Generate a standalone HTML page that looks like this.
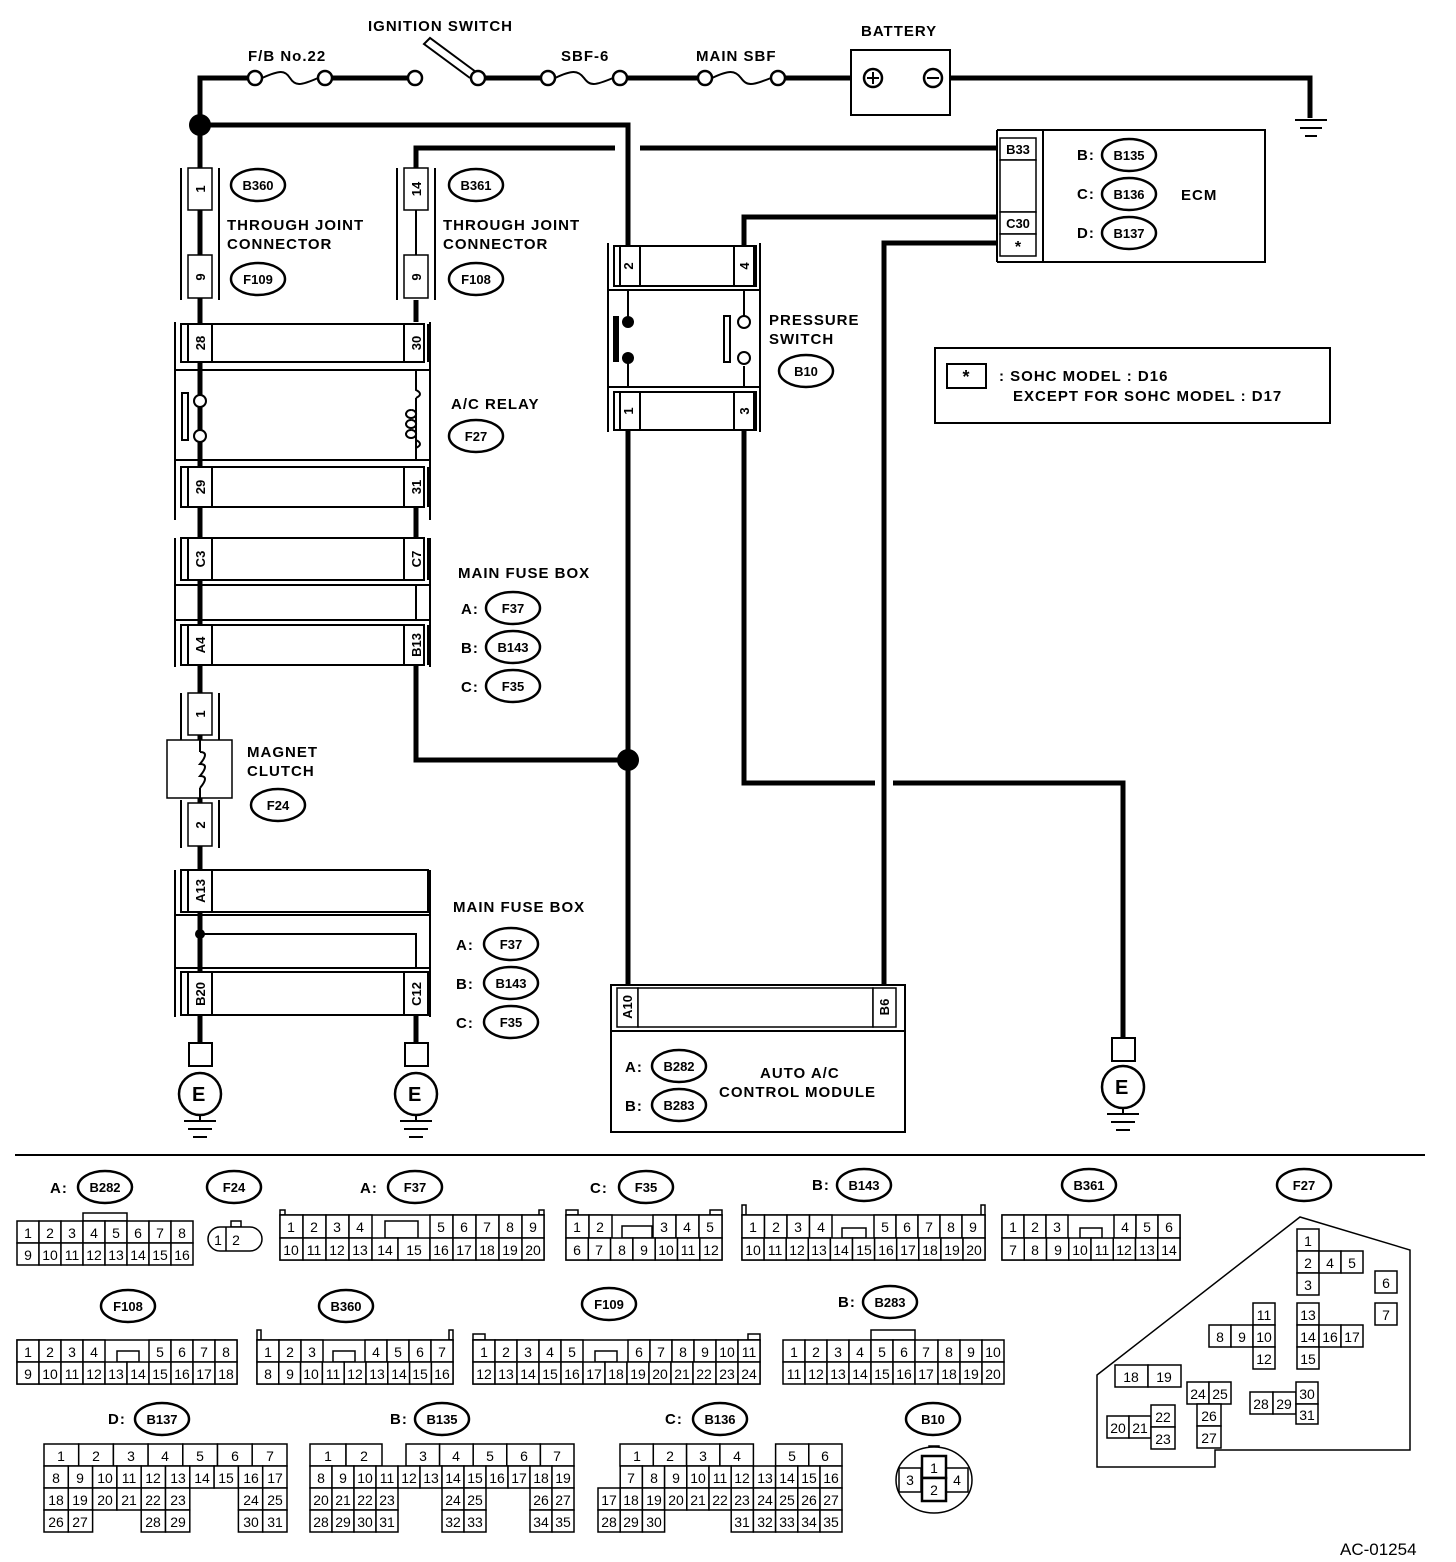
<!DOCTYPE html>
<html><head><meta charset="utf-8"><style>
body{margin:0;background:#fff}
svg{display:block}
.t{font-family:"Liberation Sans",Arial,sans-serif;font-weight:bold;font-size:15px;letter-spacing:1px;fill:#000}
.n{font-family:"Liberation Sans Narrow","Liberation Sans",sans-serif;font-size:14px;fill:#000;text-anchor:middle}
.g rect,.g ellipse{fill:#fff;stroke:#000;stroke-width:1.5}
.w{stroke:#000;stroke-width:5;fill:none}
.l{stroke:#000;stroke-width:2;fill:none}
.o{fill:#fff;stroke:#000;stroke-width:2.5}
.r{font-family:"Liberation Sans",sans-serif;font-weight:bold;font-size:13px;text-anchor:middle}
</style></head><body>
<svg width="1456" height="1562" viewBox="0 0 1456 1562" xmlns="http://www.w3.org/2000/svg">
<path class="w" d="M200 1040V78H248M332 78H408M485 78H541M627 78H698M785 78H851M950 78H1310V118"/>
<path class="l" d="M1295 120H1327M1300 128H1322M1305 136H1317"/>
<path class="w" d="M200 125H628V245M416 168V148H615M640 148H997"/>
<circle cx="200" cy="125" r="11"/>
<circle class="o" cx="255" cy="78" r="7"/><circle class="o" cx="325" cy="78" r="7"/>
<path class="l" d="M262 78C280 70 285 70 290 78S300 86 318 78"/>
<circle class="o" cx="415" cy="78" r="7"/><circle class="o" cx="478" cy="78" r="7"/>
<path class="l" d="M476 72L430 38L424 44L470 78" />
<circle class="o" cx="548" cy="78" r="7"/><circle class="o" cx="620" cy="78" r="7"/>
<path class="l" d="M555 78C572 70 578 70 584 78S594 86 613 78"/>
<circle class="o" cx="705" cy="78" r="7"/><circle class="o" cx="778" cy="78" r="7"/>
<path class="l" d="M712 78C729 70 735 70 741 78S751 86 771 78"/>
<rect x="851" y="50" width="99" height="65" class="o" style="stroke-width:2"/>
<circle class="o" cx="873" cy="78" r="9"/><path class="l" d="M867 78H879M873 72V84"/>
<circle class="o" cx="933" cy="78" r="9"/><path class="l" d="M927 78H939"/>
<text class="t" x="368" y="31">IGNITION SWITCH</text>
<text class="t" x="248" y="61">F/B No.22</text>
<text class="t" x="561" y="61">SBF-6</text>
<text class="t" x="696" y="61">MAIN SBF</text>
<text class="t" x="861" y="36">BATTERY</text>

<g class="l">
<path d="M181 168V300M219 168V300M397 168V300M435 168V300M200 210V255M416 210V255"/>
</g>
<path class="w" d="M200 300V322M416 300V322"/>
<g class="g"><rect x="188" y="168" width="24" height="42"/><rect x="188" y="255" width="24" height="43"/>
<rect x="404" y="168" width="24" height="42"/><rect x="404" y="255" width="24" height="43"/></g>
<text class="r" transform="translate(205,189) rotate(-90)">1</text>
<text class="r" transform="translate(205,277) rotate(-90)">9</text>
<text class="r" transform="translate(421,189) rotate(-90)">14</text>
<text class="r" transform="translate(421,277) rotate(-90)">9</text>
<ellipse class="o" cx="258" cy="185" rx="27" ry="16"/><text class="r" x="258" y="190">B360</text>
<ellipse class="o" cx="258" cy="279" rx="27" ry="16"/><text class="r" x="258" y="284">F109</text>
<ellipse class="o" cx="476" cy="185" rx="27" ry="16"/><text class="r" x="476" y="190">B361</text>
<ellipse class="o" cx="476" cy="279" rx="27" ry="16"/><text class="r" x="476" y="284">F108</text>
<text class="t" x="227" y="230">THROUGH JOINT</text><text class="t" x="227" y="249">CONNECTOR</text>
<text class="t" x="443" y="230">THROUGH JOINT</text><text class="t" x="443" y="249">CONNECTOR</text>

<g class="l">
<path d="M175 322V520M430 322V520M175 370H430M175 460H430"/>
<rect x="181" y="324" width="243" height="38" fill="#fff"/>
<rect x="181" y="467" width="243" height="40" fill="#fff"/>
<path d="M188 324V362M212 324V362M404 324V362M428 324V362M188 467V507M212 467V507M404 467V507M428 467V507"/>
<path d="M200 370V395M200 408V437M200 448V460M182 393V440H188V393Z"/>
<path d="M416 370V390q8 4 0 8M416 448q8 -4 0 -8V460"/>
</g>
<circle class="o" cx="200" cy="401" r="6" style="stroke-width:2"/><circle class="o" cx="200" cy="436" r="6" style="stroke-width:2"/>
<path class="l" d="M416 398v42M411 410a5 4 0 1 0 0.1 0M411 420a5 4 0 1 0 0.1 0M411 430a5 4 0 1 0 0.1 0"/>
<text class="r" transform="translate(205,343) rotate(-90)">28</text>
<text class="r" transform="translate(421,343) rotate(-90)">30</text>
<text class="r" transform="translate(205,487) rotate(-90)">29</text>
<text class="r" transform="translate(421,487) rotate(-90)">31</text>
<text class="t" x="451" y="409">A/C RELAY</text>
<ellipse class="o" cx="476" cy="436" rx="27" ry="16"/><text class="r" x="476" y="441">F27</text>
<path class="w" d="M200 507V538M416 507V538"/>
<g class="l">
<path d="M175 538V667M430 538V667M175 585H430M175 620H430M200 585V620M416 585V620"/>
<rect x="181" y="538" width="243" height="42" fill="#fff"/>
<rect x="181" y="625" width="243" height="40" fill="#fff"/>
<path d="M188 538V580M212 538V580M404 538V580M428 538V580M188 625V665M212 625V665M404 625V665M428 625V665"/>
</g>
<text class="r" transform="translate(205,559) rotate(-90)">C3</text>
<text class="r" transform="translate(421,559) rotate(-90)">C7</text>
<text class="r" transform="translate(205,645) rotate(-90)">A4</text>
<text class="r" transform="translate(421,645) rotate(-90)">B13</text>
<text class="t" x="458" y="578">MAIN FUSE BOX</text>
<text class="t" x="461" y="614">A:</text><text class="t" x="461" y="653">B:</text><text class="t" x="461" y="692">C:</text>
<ellipse class="o" cx="513" cy="608" rx="27" ry="16"/><text class="r" x="513" y="613">F37</text>
<ellipse class="o" cx="513" cy="647" rx="27" ry="16"/><text class="r" x="513" y="652">B143</text>
<ellipse class="o" cx="513" cy="686" rx="27" ry="16"/><text class="r" x="513" y="691">F35</text>

<path class="w" d="M416 665V760H628"/>
<g class="l"><path d="M181 693V740M219 693V740M181 800V848M219 800V848"/></g>
<g class="g"><rect x="188" y="693" width="24" height="42"/><rect x="188" y="803" width="24" height="43"/><rect x="167" y="740" width="65" height="58"/></g>
<path class="l" d="M200 740v12M200 788v10M200 752q10 0 0 12q10 0 0 12q10 0 0 12"/>
<text class="r" transform="translate(205,714) rotate(-90)">1</text>
<text class="r" transform="translate(205,825) rotate(-90)">2</text>
<text class="t" x="247" y="757">MAGNET</text><text class="t" x="247" y="776">CLUTCH</text>
<ellipse class="o" cx="278" cy="805" rx="27" ry="16"/><text class="r" x="278" y="810">F24</text>

<g class="l">
<path d="M175 870V1017M430 870V1017M175 915H430M175 968H430"/>
<rect x="181" y="870" width="247" height="42" fill="#fff"/>
<rect x="181" y="972" width="247" height="43" fill="#fff"/>
<path d="M188 870V912M212 870V912M188 972V1015M212 972V1015M404 972V1015M428 972V1015"/>
<path d="M200 915V968M200 934H416V968"/>
</g>
<circle cx="200" cy="934" r="5"/>
<text class="r" transform="translate(205,891) rotate(-90)">A13</text>
<text class="r" transform="translate(205,994) rotate(-90)">B20</text>
<text class="r" transform="translate(421,994) rotate(-90)">C12</text>
<text class="t" x="453" y="912">MAIN FUSE BOX</text>
<text class="t" x="456" y="950">A:</text><text class="t" x="456" y="989">B:</text><text class="t" x="456" y="1028">C:</text>
<ellipse class="o" cx="511" cy="944" rx="27" ry="16"/><text class="r" x="511" y="949">F37</text>
<ellipse class="o" cx="511" cy="983" rx="27" ry="16"/><text class="r" x="511" y="988">B143</text>
<ellipse class="o" cx="511" cy="1022" rx="27" ry="16"/><text class="r" x="511" y="1027">F35</text>
<path class="w" d="M200 1015V1043M416 1015V1043"/>
<g>
<rect class="o" x="189" y="1043" width="23" height="23" style="stroke-width:2"/><circle class="o" cx="200" cy="1094" r="21"/><text class="t" x="192" y="1101" style="font-size:20px">E</text>
<path class="l" d="M200 1115V1120M184 1121H216M188 1129H212M193 1137H207"/>
<rect class="o" x="405" y="1043" width="23" height="23" style="stroke-width:2"/><circle class="o" cx="416" cy="1094" r="21"/><text class="t" x="408" y="1101" style="font-size:20px">E</text>
<path class="l" d="M416 1115V1120M400 1121H432M404 1129H428M409 1137H423"/>
<rect class="o" x="1112" y="1038" width="23" height="23" style="stroke-width:2"/><circle class="o" cx="1123" cy="1087" r="21"/><text class="t" x="1115" y="1094" style="font-size:20px">E</text>
<path class="l" d="M1123 1108V1113M1107 1114H1139M1111 1122H1135M1116 1130H1130"/>
</g>

<path class="w" d="M628 430V985M744 430V783H875M893 783H1123V1038M744 245V217H997M884 985V243H997"/>
<circle cx="628" cy="760" r="11"/>
<g class="l">
<path d="M608 243V432M760 243V432M608 290H760M608 387H760"/>
<rect x="614" y="246" width="142" height="40" fill="#fff"/>
<rect x="614" y="392" width="142" height="38" fill="#fff"/>
<path d="M620 246V286M640 246V286M734 246V286M754 246V286M620 392V430M640 392V430M734 392V430M754 392V430"/>
<path d="M628 290V322M628 358V387M744 290V316M744 366V387M724 316V362H730V316Z"/>
</g>
<path d="M613 316h6v46h-6z"/><circle cx="628" cy="322" r="6"/><circle cx="628" cy="358" r="6"/>
<circle class="o" cx="744" cy="322" r="6" style="stroke-width:2"/><circle class="o" cx="744" cy="358" r="6" style="stroke-width:2"/>
<text class="r" transform="translate(633,266) rotate(-90)">2</text>
<text class="r" transform="translate(749,266) rotate(-90)">4</text>
<text class="r" transform="translate(633,411) rotate(-90)">1</text>
<text class="r" transform="translate(749,411) rotate(-90)">3</text>
<text class="t" x="769" y="325">PRESSURE</text><text class="t" x="769" y="344">SWITCH</text>
<ellipse class="o" cx="806" cy="371" rx="27" ry="16"/><text class="r" x="806" y="376">B10</text>

<rect class="o" x="1043" y="130" width="222" height="132" style="stroke-width:2"/>
<path class="l" d="M997 130H1043M997 262H1043M997 130V262"/>
<g class="g"><rect x="1000" y="138" width="36" height="22"/><rect x="1000" y="160" width="36" height="52"/><rect x="1000" y="212" width="36" height="22"/><rect x="1000" y="234" width="36" height="22"/></g>
<text class="r" x="1018" y="154">B33</text><text class="r" x="1018" y="228">C30</text><text class="r" x="1018" y="252" style="font-size:16px">*</text>
<text class="t" x="1077" y="160">B:</text><text class="t" x="1077" y="199">C:</text><text class="t" x="1077" y="238">D:</text>
<ellipse class="o" cx="1129" cy="155" rx="27" ry="16"/><text class="r" x="1129" y="160">B135</text>
<ellipse class="o" cx="1129" cy="194" rx="27" ry="16"/><text class="r" x="1129" y="199">B136</text>
<ellipse class="o" cx="1129" cy="233" rx="27" ry="16"/><text class="r" x="1129" y="238">B137</text>
<text class="t" x="1181" y="200">ECM</text>
<rect class="o" x="935" y="348" width="395" height="75" style="stroke-width:2"/>
<rect class="o" x="947" y="364" width="39" height="24" style="stroke-width:2"/>
<text class="r" x="966" y="383" style="font-size:18px">*</text>
<text class="t" x="999" y="381">: SOHC MODEL : D16</text>
<text class="t" x="1013" y="401">EXCEPT FOR SOHC MODEL : D17</text>

<rect class="o" x="611" y="985" width="294" height="147" style="stroke-width:2"/>
<path class="l" d="M611 1031H905"/>
<g class="g"><rect x="617" y="988" width="21" height="39"/><rect x="638" y="988" width="235" height="39"/><rect x="873" y="988" width="23" height="39"/></g>
<text class="r" transform="translate(632,1007) rotate(-90)">A10</text>
<text class="r" transform="translate(889,1007) rotate(-90)">B6</text>
<text class="t" x="625" y="1072">A:</text><text class="t" x="625" y="1111">B:</text>
<ellipse class="o" cx="679" cy="1066" rx="27" ry="16"/><text class="r" x="679" y="1071">B282</text>
<ellipse class="o" cx="679" cy="1105" rx="27" ry="16"/><text class="r" x="679" y="1110">B283</text>
<text class="t" x="760" y="1078">AUTO A/C</text><text class="t" x="719" y="1097">CONTROL MODULE</text>

<path d="M15 1155H1425" stroke="#000" stroke-width="2"/>

<g>
<text class="t" x="50" y="1193">A:</text><ellipse class="o" cx="105" cy="1187" rx="27" ry="16"/><text class="r" x="105" y="1192">B282</text>
<ellipse class="o" cx="234" cy="1187" rx="27" ry="16"/><text class="r" x="234" y="1192">F24</text>
<text class="t" x="360" y="1193">A:</text><ellipse class="o" cx="415" cy="1187" rx="27" ry="16"/><text class="r" x="415" y="1192">F37</text>
<text class="t" x="590" y="1193">C:</text><ellipse class="o" cx="646" cy="1187" rx="27" ry="16"/><text class="r" x="646" y="1192">F35</text>
<text class="t" x="812" y="1190">B:</text><ellipse class="o" cx="864" cy="1185" rx="27" ry="16"/><text class="r" x="864" y="1190">B143</text>
<ellipse class="o" cx="1089" cy="1185" rx="27" ry="16"/><text class="r" x="1089" y="1190">B361</text>
<ellipse class="o" cx="1304" cy="1185" rx="27" ry="16"/><text class="r" x="1304" y="1190">F27</text>
<ellipse class="o" cx="128" cy="1306" rx="27" ry="16"/><text class="r" x="128" y="1311">F108</text>
<ellipse class="o" cx="346" cy="1306" rx="27" ry="16"/><text class="r" x="346" y="1311">B360</text>
<ellipse class="o" cx="609" cy="1304" rx="27" ry="16"/><text class="r" x="609" y="1309">F109</text>
<text class="t" x="838" y="1307">B:</text><ellipse class="o" cx="890" cy="1302" rx="27" ry="16"/><text class="r" x="890" y="1307">B283</text>
<text class="t" x="108" y="1424">D:</text><ellipse class="o" cx="162" cy="1419" rx="27" ry="16"/><text class="r" x="162" y="1424">B137</text>
<text class="t" x="390" y="1424">B:</text><ellipse class="o" cx="442" cy="1419" rx="27" ry="16"/><text class="r" x="442" y="1424">B135</text>
<text class="t" x="665" y="1424">C:</text><ellipse class="o" cx="720" cy="1419" rx="27" ry="16"/><text class="r" x="720" y="1424">B136</text>
<ellipse class="o" cx="933" cy="1419" rx="27" ry="16"/><text class="r" x="933" y="1424">B10</text>
</g>

<g class="g">
<rect x="83" y="1213" width="44" height="8"/>
<rect x="17" y="1221" width="22" height="22"/><rect x="39" y="1221" width="22" height="22"/><rect x="61" y="1221" width="22" height="22"/><rect x="83" y="1221" width="22" height="22"/><rect x="105" y="1221" width="22" height="22"/><rect x="127" y="1221" width="22" height="22"/><rect x="149" y="1221" width="22" height="22"/><rect x="171" y="1221" width="22" height="22"/>
<rect x="17" y="1243" width="22" height="22"/><rect x="39" y="1243" width="22" height="22"/><rect x="61" y="1243" width="22" height="22"/><rect x="83" y="1243" width="22" height="22"/><rect x="105" y="1243" width="22" height="22"/><rect x="127" y="1243" width="22" height="22"/><rect x="149" y="1243" width="22" height="22"/><rect x="171" y="1243" width="22" height="22"/>
<rect x="231" y="1221" width="10" height="6"/>
<rect x="208" y="1227" width="54" height="24" rx="12"/>
<rect x="280" y="1210" width="5" height="5"/><rect x="539" y="1210" width="5" height="5"/>
<rect x="280" y="1215" width="264" height="45"/>
<rect x="280" y="1215" width="23" height="23"/><rect x="303" y="1215" width="23" height="23"/><rect x="326" y="1215" width="23" height="23"/><rect x="349" y="1215" width="23" height="23"/>
<rect x="385" y="1221" width="33" height="17"/>
<rect x="430" y="1215" width="23" height="23"/><rect x="453" y="1215" width="23" height="23"/><rect x="476" y="1215" width="23" height="23"/><rect x="499" y="1215" width="23" height="23"/><rect x="522" y="1215" width="22" height="23"/>
<rect x="280" y="1238" width="23" height="22"/><rect x="303" y="1238" width="23" height="22"/><rect x="326" y="1238" width="23" height="22"/><rect x="349" y="1238" width="23" height="22"/><rect x="372" y="1238" width="26" height="22"/><rect x="398" y="1238" width="32" height="22"/>
<rect x="430" y="1238" width="23" height="22"/><rect x="453" y="1238" width="23" height="22"/><rect x="476" y="1238" width="23" height="22"/><rect x="499" y="1238" width="23" height="22"/><rect x="522" y="1238" width="22" height="22"/>
<rect x="566" y="1210" width="12" height="5"/><rect x="710" y="1210" width="12" height="5"/>
<rect x="566" y="1215" width="156" height="45"/>
<rect x="566" y="1215" width="23" height="23"/><rect x="589" y="1215" width="23" height="23"/>
<rect x="622" y="1226" width="30" height="12"/>
<rect x="653" y="1215" width="23" height="23"/><rect x="676" y="1215" width="23" height="23"/><rect x="699" y="1215" width="23" height="23"/>
<rect x="566" y="1238" width="22.3" height="22"/><rect x="588.3" y="1238" width="22.3" height="22"/><rect x="610.6" y="1238" width="22.3" height="22"/><rect x="632.9" y="1238" width="22.3" height="22"/><rect x="655.2" y="1238" width="22.3" height="22"/><rect x="677.5" y="1238" width="22.3" height="22"/><rect x="699.8" y="1238" width="22.2" height="22"/>
<rect x="742" y="1205" width="4" height="10"/><rect x="981" y="1205" width="4" height="10"/>
<rect x="742" y="1215" width="243" height="45"/>
<rect x="742" y="1215" width="22.5" height="23"/><rect x="764.5" y="1215" width="22.5" height="23"/><rect x="787" y="1215" width="22.5" height="23"/><rect x="809.5" y="1215" width="22.5" height="23"/>
<rect x="842" y="1228" width="24" height="10"/>
<rect x="874" y="1215" width="22" height="23"/><rect x="896" y="1215" width="22" height="23"/><rect x="918" y="1215" width="22" height="23"/><rect x="940" y="1215" width="22" height="23"/><rect x="962" y="1215" width="23" height="23"/>
<rect x="742" y="1238" width="22.1" height="22"/><rect x="764.1" y="1238" width="22.1" height="22"/><rect x="786.2" y="1238" width="22.1" height="22"/><rect x="808.3" y="1238" width="22.1" height="22"/><rect x="830.4" y="1238" width="22.1" height="22"/><rect x="852.5" y="1238" width="22.1" height="22"/><rect x="874.6" y="1238" width="22.1" height="22"/><rect x="896.7" y="1238" width="22.1" height="22"/><rect x="918.8" y="1238" width="22.1" height="22"/><rect x="940.9" y="1238" width="22.1" height="22"/><rect x="963" y="1238" width="22" height="22"/>
<rect x="1002" y="1215" width="178" height="45"/>
<rect x="1002" y="1215" width="22" height="23"/><rect x="1024" y="1215" width="22" height="23"/><rect x="1046" y="1215" width="22" height="23"/>
<rect x="1080" y="1228" width="22" height="10"/>
<rect x="1114" y="1215" width="22" height="23"/><rect x="1136" y="1215" width="22" height="23"/><rect x="1158" y="1215" width="22" height="23"/>
<rect x="1002" y="1238" width="22.25" height="22"/><rect x="1024.25" y="1238" width="22.25" height="22"/><rect x="1046.5" y="1238" width="22.25" height="22"/><rect x="1068.75" y="1238" width="22.25" height="22"/><rect x="1091" y="1238" width="22.25" height="22"/><rect x="1113.25" y="1238" width="22.25" height="22"/><rect x="1135.5" y="1238" width="22.25" height="22"/><rect x="1157.75" y="1238" width="22.25" height="22"/>
<rect x="17" y="1340" width="220" height="44"/>
<rect x="17" y="1340" width="22" height="22"/><rect x="39" y="1340" width="22" height="22"/><rect x="61" y="1340" width="22" height="22"/><rect x="83" y="1340" width="22" height="22"/>
<rect x="117" y="1351" width="22" height="11"/>
<rect x="149" y="1340" width="22" height="22"/><rect x="171" y="1340" width="22" height="22"/><rect x="193" y="1340" width="22" height="22"/><rect x="215" y="1340" width="22" height="22"/>
<rect x="17" y="1362" width="22" height="22"/><rect x="39" y="1362" width="22" height="22"/><rect x="61" y="1362" width="22" height="22"/><rect x="83" y="1362" width="22" height="22"/><rect x="105" y="1362" width="22" height="22"/><rect x="127" y="1362" width="22" height="22"/><rect x="149" y="1362" width="22" height="22"/><rect x="171" y="1362" width="22" height="22"/><rect x="193" y="1362" width="22" height="22"/><rect x="215" y="1362" width="22" height="22"/>
<rect x="257" y="1330" width="4" height="10"/><rect x="449" y="1330" width="4" height="10"/>
<rect x="257" y="1340" width="196" height="44"/>
<rect x="257" y="1340" width="22" height="22"/><rect x="279" y="1340" width="22" height="22"/><rect x="301" y="1340" width="22" height="22"/>
<rect x="333" y="1351" width="22" height="11"/>
<rect x="365" y="1340" width="22" height="22"/><rect x="387" y="1340" width="22" height="22"/><rect x="409" y="1340" width="22" height="22"/><rect x="431" y="1340" width="22" height="22"/>
<rect x="257" y="1362" width="21.8" height="22"/><rect x="278.8" y="1362" width="21.8" height="22"/><rect x="300.6" y="1362" width="21.8" height="22"/><rect x="322.4" y="1362" width="21.8" height="22"/><rect x="344.2" y="1362" width="21.8" height="22"/><rect x="366" y="1362" width="21.8" height="22"/><rect x="387.8" y="1362" width="21.8" height="22"/><rect x="409.6" y="1362" width="21.8" height="22"/><rect x="431.4" y="1362" width="21.6" height="22"/>
<rect x="473" y="1334" width="12" height="6"/><rect x="748" y="1334" width="12" height="6"/>
<rect x="473" y="1340" width="287" height="44"/>
<rect x="473" y="1340" width="22" height="22"/><rect x="495" y="1340" width="22" height="22"/><rect x="517" y="1340" width="22" height="22"/><rect x="539" y="1340" width="22" height="22"/><rect x="561" y="1340" width="22" height="22"/>
<rect x="595" y="1351" width="22" height="11"/>
<rect x="628" y="1340" width="22" height="22"/><rect x="650" y="1340" width="22" height="22"/><rect x="672" y="1340" width="22" height="22"/><rect x="694" y="1340" width="22" height="22"/><rect x="716" y="1340" width="22" height="22"/><rect x="738" y="1340" width="22" height="22"/>
<rect x="473" y="1362" width="22" height="22"/><rect x="495" y="1362" width="22" height="22"/><rect x="517" y="1362" width="22" height="22"/><rect x="539" y="1362" width="22" height="22"/><rect x="561" y="1362" width="22" height="22"/><rect x="583" y="1362" width="22" height="22"/><rect x="605" y="1362" width="22" height="22"/><rect x="627" y="1362" width="22" height="22"/><rect x="649" y="1362" width="22" height="22"/><rect x="671" y="1362" width="22" height="22"/><rect x="693" y="1362" width="23" height="22"/><rect x="716" y="1362" width="22" height="22"/><rect x="738" y="1362" width="22" height="22"/>
<rect x="871" y="1330" width="44" height="10"/>
<rect x="783" y="1340" width="22" height="22"/><rect x="805" y="1340" width="22" height="22"/><rect x="827" y="1340" width="22" height="22"/><rect x="849" y="1340" width="22" height="22"/><rect x="871" y="1340" width="22" height="22"/><rect x="893" y="1340" width="22" height="22"/><rect x="915" y="1340" width="23" height="22"/><rect x="938" y="1340" width="22" height="22"/><rect x="960" y="1340" width="22" height="22"/><rect x="982" y="1340" width="22" height="22"/>
<rect x="783" y="1362" width="22" height="22"/><rect x="805" y="1362" width="22" height="22"/><rect x="827" y="1362" width="22" height="22"/><rect x="849" y="1362" width="22" height="22"/><rect x="871" y="1362" width="22" height="22"/><rect x="893" y="1362" width="22" height="22"/><rect x="915" y="1362" width="23" height="22"/><rect x="938" y="1362" width="22" height="22"/><rect x="960" y="1362" width="22" height="22"/><rect x="982" y="1362" width="22" height="22"/>
<rect x="44" y="1444" width="34.7" height="22"/><rect x="78.7" y="1444" width="34.7" height="22"/><rect x="113.4" y="1444" width="34.7" height="22"/><rect x="148.1" y="1444" width="34.7" height="22"/><rect x="182.8" y="1444" width="34.7" height="22"/><rect x="217.5" y="1444" width="34.7" height="22"/><rect x="252.2" y="1444" width="34.8" height="22"/>
<rect x="44" y="1466" width="24.3" height="22"/><rect x="68.3" y="1466" width="24.3" height="22"/><rect x="92.6" y="1466" width="24.3" height="22"/><rect x="116.9" y="1466" width="24.3" height="22"/><rect x="141.2" y="1466" width="24.3" height="22"/><rect x="165.5" y="1466" width="24.3" height="22"/><rect x="189.8" y="1466" width="24.3" height="22"/><rect x="214.1" y="1466" width="24.3" height="22"/><rect x="238.4" y="1466" width="24.3" height="22"/><rect x="262.7" y="1466" width="24.3" height="22"/>
<rect x="44" y="1488" width="24.3" height="22"/><rect x="68.3" y="1488" width="24.3" height="22"/><rect x="92.6" y="1488" width="24.3" height="22"/><rect x="116.9" y="1488" width="24.3" height="22"/><rect x="141.2" y="1488" width="24.3" height="22"/><rect x="165.5" y="1488" width="24.3" height="22"/><rect x="238.4" y="1488" width="24.3" height="22"/><rect x="262.7" y="1488" width="24.3" height="22"/>
<rect x="44" y="1510" width="24.3" height="22"/><rect x="68.3" y="1510" width="24.3" height="22"/><rect x="141.2" y="1510" width="24.3" height="22"/><rect x="165.5" y="1510" width="24.3" height="22"/><rect x="238.4" y="1510" width="24.3" height="22"/><rect x="262.7" y="1510" width="24.3" height="22"/>
<rect x="310" y="1444" width="36" height="22"/><rect x="346" y="1444" width="36" height="22"/>
<rect x="406" y="1444" width="33.6" height="22"/><rect x="439.6" y="1444" width="33.6" height="22"/><rect x="473.2" y="1444" width="33.6" height="22"/><rect x="506.8" y="1444" width="33.6" height="22"/><rect x="540.4" y="1444" width="33.6" height="22"/>
<rect x="310" y="1466" width="22" height="22"/><rect x="332" y="1466" width="22" height="22"/><rect x="354" y="1466" width="22" height="22"/><rect x="376" y="1466" width="22" height="22"/><rect x="398" y="1466" width="22" height="22"/><rect x="420" y="1466" width="22" height="22"/><rect x="442" y="1466" width="22" height="22"/><rect x="464" y="1466" width="22" height="22"/><rect x="486" y="1466" width="22" height="22"/><rect x="508" y="1466" width="22" height="22"/><rect x="530" y="1466" width="22" height="22"/><rect x="552" y="1466" width="22" height="22"/>
<rect x="310" y="1488" width="22" height="22"/><rect x="332" y="1488" width="22" height="22"/><rect x="354" y="1488" width="22" height="22"/><rect x="376" y="1488" width="22" height="22"/><rect x="442" y="1488" width="22" height="22"/><rect x="464" y="1488" width="22" height="22"/><rect x="530" y="1488" width="22" height="22"/><rect x="552" y="1488" width="22" height="22"/>
<rect x="310" y="1510" width="22" height="22"/><rect x="332" y="1510" width="22" height="22"/><rect x="354" y="1510" width="22" height="22"/><rect x="376" y="1510" width="22" height="22"/><rect x="442" y="1510" width="22" height="22"/><rect x="464" y="1510" width="22" height="22"/><rect x="530" y="1510" width="22" height="22"/><rect x="552" y="1510" width="22" height="22"/>
<rect x="620" y="1444" width="33.3" height="22"/><rect x="653.3" y="1444" width="33.3" height="22"/><rect x="686.6" y="1444" width="33.3" height="22"/><rect x="719.9" y="1444" width="33.5" height="22"/>
<rect x="775.6" y="1444" width="33.2" height="22"/><rect x="808.8" y="1444" width="33.2" height="22"/>
<rect x="620.2" y="1466" width="22.2" height="22"/><rect x="642.4" y="1466" width="22.2" height="22"/><rect x="664.6" y="1466" width="22.2" height="22"/><rect x="686.8" y="1466" width="22.2" height="22"/><rect x="709" y="1466" width="22.2" height="22"/><rect x="731.2" y="1466" width="22.2" height="22"/><rect x="753.4" y="1466" width="22.2" height="22"/><rect x="775.6" y="1466" width="22.2" height="22"/><rect x="797.8" y="1466" width="22.2" height="22"/><rect x="820" y="1466" width="22" height="22"/>
<rect x="598" y="1488" width="22.2" height="22"/><rect x="620.2" y="1488" width="22.2" height="22"/><rect x="642.4" y="1488" width="22.2" height="22"/><rect x="664.6" y="1488" width="22.2" height="22"/><rect x="686.8" y="1488" width="22.2" height="22"/><rect x="709" y="1488" width="22.2" height="22"/><rect x="731.2" y="1488" width="22.2" height="22"/><rect x="753.4" y="1488" width="22.2" height="22"/><rect x="775.6" y="1488" width="22.2" height="22"/><rect x="797.8" y="1488" width="22.2" height="22"/><rect x="820" y="1488" width="22" height="22"/>
<rect x="598" y="1510" width="22.2" height="22"/><rect x="620.2" y="1510" width="22.2" height="22"/><rect x="642.4" y="1510" width="22.2" height="22"/><rect x="731.2" y="1510" width="22.2" height="22"/><rect x="753.4" y="1510" width="22.2" height="22"/><rect x="775.6" y="1510" width="22.2" height="22"/><rect x="797.8" y="1510" width="22.2" height="22"/><rect x="820" y="1510" width="22" height="22"/>
<rect x="929" y="1446" width="10" height="7"/>
<ellipse cx="934" cy="1480" rx="38" ry="33"/>
<rect x="899" y="1468" width="22" height="24"/><rect x="946" y="1468" width="22" height="24"/>
<rect x="922" y="1456" width="24" height="22" style="stroke-width:2.5"/><rect x="922" y="1478" width="24" height="23" style="stroke-width:2.5"/>
<path d="M1097 1375L1300 1217L1410 1250V1450H1215V1467H1097Z" style="fill:#fff;stroke:#000;stroke-width:1.5"/>
<rect x="1297" y="1229" width="22" height="22"/><rect x="1297" y="1251" width="22" height="22"/><rect x="1319" y="1251" width="22" height="22"/><rect x="1341" y="1251" width="22" height="22"/><rect x="1297" y="1273" width="22" height="22"/>
<rect x="1375" y="1271" width="22" height="22"/><rect x="1375" y="1303" width="22" height="22"/>
<rect x="1253" y="1303" width="22" height="22"/><rect x="1209" y="1325" width="22" height="22"/><rect x="1231" y="1325" width="22" height="22"/><rect x="1253" y="1325" width="22" height="22"/><rect x="1253" y="1347" width="22" height="22"/>
<rect x="1297" y="1303" width="22" height="22"/><rect x="1297" y="1325" width="22" height="22"/><rect x="1319" y="1325" width="22" height="22"/><rect x="1341" y="1325" width="22" height="22"/><rect x="1297" y="1347" width="22" height="22"/>
<rect x="1115" y="1365" width="33" height="22"/><rect x="1148" y="1365" width="33" height="22"/>
<rect x="1107" y="1416" width="22" height="22"/><rect x="1129" y="1416" width="22" height="22"/><rect x="1151" y="1405" width="24" height="22"/><rect x="1151" y="1427" width="24" height="22"/>
<rect x="1187" y="1382" width="22" height="22"/><rect x="1209" y="1382" width="22" height="22"/><rect x="1197" y="1404" width="24" height="22"/><rect x="1197" y="1426" width="24" height="22"/>
<rect x="1250" y="1392" width="23" height="22"/><rect x="1273" y="1392" width="23" height="22"/><rect x="1296" y="1382" width="22" height="22"/><rect x="1296" y="1404" width="22" height="20"/>
</g>
<path class="l" d="M226 1227V1251" style="stroke-width:1.5"/>

<g class="n">
<text x="28" y="1238">1</text><text x="50" y="1238">2</text><text x="72" y="1238">3</text><text x="94" y="1238">4</text><text x="116" y="1238">5</text><text x="138" y="1238">6</text><text x="160" y="1238">7</text><text x="182" y="1238">8</text>
<text x="28" y="1260">9</text><text x="50" y="1260">10</text><text x="72" y="1260">11</text><text x="94" y="1260">12</text><text x="116" y="1260">13</text><text x="138" y="1260">14</text><text x="160" y="1260">15</text><text x="182" y="1260">16</text>
<text x="218" y="1245">1</text><text x="236" y="1245">2</text>
<text x="291" y="1232">1</text><text x="314" y="1232">2</text><text x="337" y="1232">3</text><text x="360" y="1232">4</text><text x="441" y="1232">5</text><text x="464" y="1232">6</text><text x="487" y="1232">7</text><text x="510" y="1232">8</text><text x="533" y="1232">9</text>
<text x="291" y="1255">10</text><text x="314" y="1255">11</text><text x="337" y="1255">12</text><text x="360" y="1255">13</text><text x="385" y="1255">14</text><text x="414" y="1255">15</text><text x="441" y="1255">16</text><text x="464" y="1255">17</text><text x="487" y="1255">18</text><text x="510" y="1255">19</text><text x="533" y="1255">20</text>
<text x="577" y="1232">1</text><text x="600" y="1232">2</text><text x="664" y="1232">3</text><text x="687" y="1232">4</text><text x="710" y="1232">5</text>
<text x="577" y="1255">6</text><text x="599" y="1255">7</text><text x="622" y="1255">8</text><text x="644" y="1255">9</text><text x="666" y="1255">10</text><text x="688" y="1255">11</text><text x="711" y="1255">12</text>
<text x="753" y="1232">1</text><text x="776" y="1232">2</text><text x="798" y="1232">3</text><text x="821" y="1232">4</text><text x="885" y="1232">5</text><text x="907" y="1232">6</text><text x="929" y="1232">7</text><text x="951" y="1232">8</text><text x="973" y="1232">9</text>
<text x="753" y="1255">10</text><text x="775" y="1255">11</text><text x="797" y="1255">12</text><text x="819" y="1255">13</text><text x="841" y="1255">14</text><text x="864" y="1255">15</text><text x="886" y="1255">16</text><text x="908" y="1255">17</text><text x="930" y="1255">18</text><text x="952" y="1255">19</text><text x="974" y="1255">20</text>
<text x="1013" y="1232">1</text><text x="1035" y="1232">2</text><text x="1057" y="1232">3</text><text x="1125" y="1232">4</text><text x="1147" y="1232">5</text><text x="1169" y="1232">6</text>
<text x="1013" y="1255">7</text><text x="1035" y="1255">8</text><text x="1058" y="1255">9</text><text x="1080" y="1255">10</text><text x="1102" y="1255">11</text><text x="1124" y="1255">12</text><text x="1147" y="1255">13</text><text x="1169" y="1255">14</text>
<text x="28" y="1357">1</text><text x="50" y="1357">2</text><text x="72" y="1357">3</text><text x="94" y="1357">4</text><text x="160" y="1357">5</text><text x="182" y="1357">6</text><text x="204" y="1357">7</text><text x="226" y="1357">8</text>
<text x="28" y="1379">9</text><text x="50" y="1379">10</text><text x="72" y="1379">11</text><text x="94" y="1379">12</text><text x="116" y="1379">13</text><text x="138" y="1379">14</text><text x="160" y="1379">15</text><text x="182" y="1379">16</text><text x="204" y="1379">17</text><text x="226" y="1379">18</text>
<text x="268" y="1357">1</text><text x="290" y="1357">2</text><text x="312" y="1357">3</text><text x="376" y="1357">4</text><text x="398" y="1357">5</text><text x="420" y="1357">6</text><text x="442" y="1357">7</text>
<text x="268" y="1379">8</text><text x="290" y="1379">9</text><text x="311" y="1379">10</text><text x="333" y="1379">11</text><text x="355" y="1379">12</text><text x="377" y="1379">13</text><text x="399" y="1379">14</text><text x="420" y="1379">15</text><text x="442" y="1379">16</text>
<text x="484" y="1357">1</text><text x="506" y="1357">2</text><text x="528" y="1357">3</text><text x="550" y="1357">4</text><text x="572" y="1357">5</text><text x="639" y="1357">6</text><text x="661" y="1357">7</text><text x="683" y="1357">8</text><text x="705" y="1357">9</text><text x="727" y="1357">10</text><text x="749" y="1357">11</text>
<text x="484" y="1379">12</text><text x="506" y="1379">13</text><text x="528" y="1379">14</text><text x="550" y="1379">15</text><text x="572" y="1379">16</text><text x="594" y="1379">17</text><text x="616" y="1379">18</text><text x="638" y="1379">19</text><text x="660" y="1379">20</text><text x="682" y="1379">21</text><text x="704" y="1379">22</text><text x="727" y="1379">23</text><text x="749" y="1379">24</text>
<text x="794" y="1357">1</text><text x="816" y="1357">2</text><text x="838" y="1357">3</text><text x="860" y="1357">4</text><text x="882" y="1357">5</text><text x="904" y="1357">6</text><text x="926" y="1357">7</text><text x="949" y="1357">8</text><text x="971" y="1357">9</text><text x="993" y="1357">10</text>
<text x="794" y="1379">11</text><text x="816" y="1379">12</text><text x="838" y="1379">13</text><text x="860" y="1379">14</text><text x="882" y="1379">15</text><text x="904" y="1379">16</text><text x="926" y="1379">17</text><text x="949" y="1379">18</text><text x="971" y="1379">19</text><text x="993" y="1379">20</text>
<text x="61" y="1461">1</text><text x="96" y="1461">2</text><text x="131" y="1461">3</text><text x="165" y="1461">4</text><text x="200" y="1461">5</text><text x="235" y="1461">6</text><text x="270" y="1461">7</text>
<text x="56" y="1483">8</text><text x="80" y="1483">9</text><text x="105" y="1483">10</text><text x="129" y="1483">11</text><text x="153" y="1483">12</text><text x="178" y="1483">13</text><text x="202" y="1483">14</text><text x="226" y="1483">15</text><text x="251" y="1483">16</text><text x="275" y="1483">17</text>
<text x="56" y="1505">18</text><text x="80" y="1505">19</text><text x="105" y="1505">20</text><text x="129" y="1505">21</text><text x="153" y="1505">22</text><text x="178" y="1505">23</text><text x="251" y="1505">24</text><text x="275" y="1505">25</text>
<text x="56" y="1527">26</text><text x="80" y="1527">27</text><text x="153" y="1527">28</text><text x="178" y="1527">29</text><text x="251" y="1527">30</text><text x="275" y="1527">31</text>
<text x="328" y="1461">1</text><text x="364" y="1461">2</text><text x="423" y="1461">3</text><text x="456" y="1461">4</text><text x="490" y="1461">5</text><text x="524" y="1461">6</text><text x="557" y="1461">7</text>
<text x="321" y="1483">8</text><text x="343" y="1483">9</text><text x="365" y="1483">10</text><text x="387" y="1483">11</text><text x="409" y="1483">12</text><text x="431" y="1483">13</text><text x="453" y="1483">14</text><text x="475" y="1483">15</text><text x="497" y="1483">16</text><text x="519" y="1483">17</text><text x="541" y="1483">18</text><text x="563" y="1483">19</text>
<text x="321" y="1505">20</text><text x="343" y="1505">21</text><text x="365" y="1505">22</text><text x="387" y="1505">23</text><text x="453" y="1505">24</text><text x="475" y="1505">25</text><text x="541" y="1505">26</text><text x="563" y="1505">27</text>
<text x="321" y="1527">28</text><text x="343" y="1527">29</text><text x="365" y="1527">30</text><text x="387" y="1527">31</text><text x="453" y="1527">32</text><text x="475" y="1527">33</text><text x="541" y="1527">34</text><text x="563" y="1527">35</text>
<text x="637" y="1461">1</text><text x="670" y="1461">2</text><text x="703" y="1461">3</text><text x="737" y="1461">4</text><text x="792" y="1461">5</text><text x="825" y="1461">6</text>
<text x="631" y="1483">7</text><text x="654" y="1483">8</text><text x="676" y="1483">9</text><text x="698" y="1483">10</text><text x="720" y="1483">11</text><text x="742" y="1483">12</text><text x="765" y="1483">13</text><text x="787" y="1483">14</text><text x="809" y="1483">15</text><text x="831" y="1483">16</text>
<text x="609" y="1505">17</text><text x="631" y="1505">18</text><text x="654" y="1505">19</text><text x="676" y="1505">20</text><text x="698" y="1505">21</text><text x="720" y="1505">22</text><text x="742" y="1505">23</text><text x="765" y="1505">24</text><text x="787" y="1505">25</text><text x="809" y="1505">26</text><text x="831" y="1505">27</text>
<text x="609" y="1527">28</text><text x="631" y="1527">29</text><text x="654" y="1527">30</text><text x="742" y="1527">31</text><text x="765" y="1527">32</text><text x="787" y="1527">33</text><text x="809" y="1527">34</text><text x="831" y="1527">35</text>
<text x="934" y="1473">1</text><text x="934" y="1495">2</text><text x="910" y="1485">3</text><text x="957" y="1485">4</text>
<text x="1308" y="1246">1</text><text x="1308" y="1268">2</text><text x="1330" y="1268">4</text><text x="1352" y="1268">5</text><text x="1308" y="1290">3</text>
<text x="1386" y="1288">6</text><text x="1386" y="1320">7</text>
<text x="1264" y="1320">11</text><text x="1220" y="1342">8</text><text x="1242" y="1342">9</text><text x="1264" y="1342">10</text><text x="1264" y="1364">12</text>
<text x="1308" y="1320">13</text><text x="1308" y="1342">14</text><text x="1330" y="1342">16</text><text x="1352" y="1342">17</text><text x="1308" y="1364">15</text>
<text x="1131" y="1382">18</text><text x="1164" y="1382">19</text>
<text x="1118" y="1433">20</text><text x="1140" y="1433">21</text><text x="1163" y="1422">22</text><text x="1163" y="1444">23</text>
<text x="1198" y="1399">24</text><text x="1220" y="1399">25</text><text x="1209" y="1421">26</text><text x="1209" y="1443">27</text>
<text x="1261" y="1409">28</text><text x="1284" y="1409">29</text><text x="1307" y="1399">30</text><text x="1307" y="1420">31</text>
</g>
<text x="1340" y="1555" style="font-family:'Liberation Sans',sans-serif;font-size:17px">AC-01254</text>
</svg>
</body></html>
